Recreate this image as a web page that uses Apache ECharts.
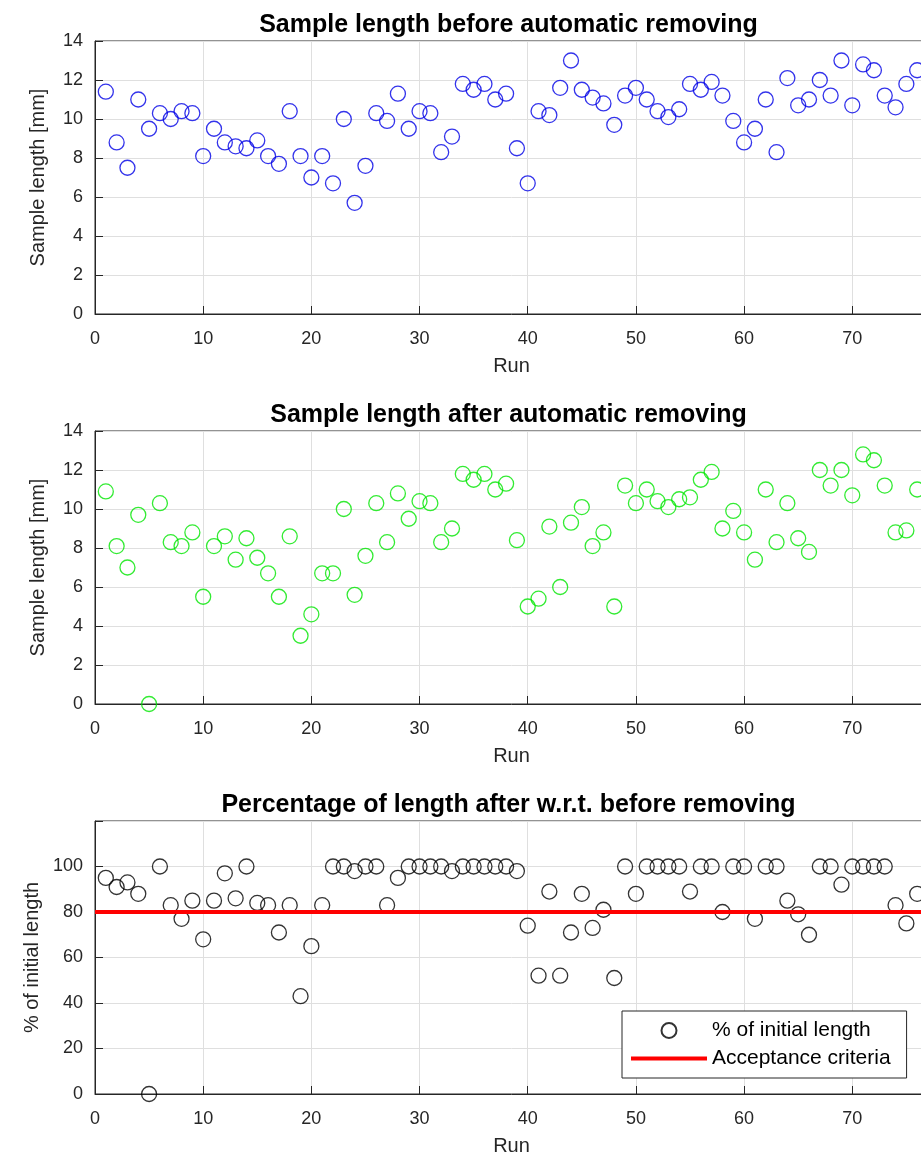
<!DOCTYPE html>
<html>
<head>
<meta charset="utf-8">
<script src="https://cdn.jsdelivr.net/npm/echarts@6/dist/echarts.min.js"></script>
<style>
  html, body { margin: 0; padding: 0; background: #fff; overflow: hidden; width: 921px; height: 1169px; }
  #chart { width: 940px; height: 1169px; }
</style>
</head>
<body>
<div id="chart"></div>
<script>
// Run numbers (x values shared by all three panels)
const runs = [
  1, 2, 3, 4, 5, 6, 7, 8, 9, 10,
  11, 12, 13, 14, 15, 16, 17, 18, 19, 20,
  21, 22, 23, 24, 25, 26, 27, 28, 29, 30,
  31, 32, 33, 34, 35, 36, 37, 38, 39, 40,
  41, 42, 43, 44, 45, 46, 47, 48, 49, 50,
  51, 52, 53, 54, 55, 56, 57, 58, 59, 60,
  61, 62, 63, 64, 65, 66, 67, 68, 69, 70,
  71, 72, 73, 74, 75, 76
];

// Sample length [mm] before automatic removing
const lengthBefore = [
  11.4, 8.8, 7.5, 11.0, 9.5, 10.3, 10.0, 10.4, 10.3, 8.1,
  9.5, 8.8, 8.6, 8.5, 8.9, 8.1, 7.7, 10.4, 8.1, 7.0,
  8.1, 6.7, 10.0, 5.7, 7.6, 10.3, 9.9, 11.3, 9.5, 10.4,
  10.3, 8.3, 9.1, 11.8, 11.5, 11.8, 11.0, 11.3, 8.5, 6.7,
  10.4, 10.2, 11.6, 13.0, 11.5, 11.1, 10.8, 9.7, 11.2, 11.6,
  11.0, 10.4, 10.1, 10.5, 11.8, 11.5, 11.9, 11.2, 9.9, 8.8,
  9.5, 11.0, 8.3, 12.1, 10.7, 11.0, 12.0, 11.2, 13.0, 10.7,
  12.8, 12.5, 11.2, 10.6, 11.8, 12.5
];

// Sample length [mm] after automatic removing
const lengthAfter = [
  10.9, 8.1, 7.0, 9.7, 0, 10.3, 8.3, 8.1, 8.8, 5.5,
  8.1, 8.6, 7.4, 8.5, 7.5, 6.7, 5.5, 8.6, 3.5, 4.6,
  6.7, 6.7, 10.0, 5.6, 7.6, 10.3, 8.3, 10.8, 9.5, 10.4,
  10.3, 8.3, 9.0, 11.8, 11.5, 11.8, 11.0, 11.3, 8.4, 5.0,
  5.4, 9.1, 6.0, 9.3, 10.1, 8.1, 8.8, 5.0, 11.2, 10.3,
  11.0, 10.4, 10.1, 10.5, 10.6, 11.5, 11.9, 9.0, 9.9, 8.8,
  7.4, 11.0, 8.3, 10.3, 8.5, 7.8, 12.0, 11.2, 12.0, 10.7,
  12.8, 12.5, 11.2, 8.8, 8.9, 11.0
];

// Remaining length as % of the initial length
const percentRemaining = [
  95, 91, 93, 88, 0, 100, 83, 77, 85, 68,
  85, 97, 86, 100, 84, 83, 71, 83, 43, 65,
  83, 100, 100, 98, 100, 100, 83, 95, 100, 100,
  100, 100, 98, 100, 100, 100, 100, 100, 98, 74,
  52, 89, 52, 71, 88, 73, 81, 51, 100, 88,
  100, 100, 100, 100, 89, 100, 100, 80, 100, 100,
  77, 100, 100, 85, 79, 70, 100, 100, 92, 100,
  100, 100, 100, 83, 75, 88
];

const acceptanceLevel = 80;

const panelTitles = [
  'Sample length before automatic removing',
  'Sample length after automatic removing',
  'Percentage of length after w.r.t. before removing'
];
const yAxisNames = ['Sample length [mm]', 'Sample length [mm]', '% of initial length'];
const xAxisName = 'Run';
const seriesNames = ['Before', 'After', '% of initial length', 'Acceptance criteria'];

const FONT = '"Liberation Sans", Arial, Helvetica, sans-serif';
const AXIS_COLOR = '#262626';
const GRID_COLOR = '#dfdfdf';

const PLOT_LEFT = 95;
const PLOT_WIDTH = 833;
const PLOT_HEIGHT = 273;
const PLOT_TOPS = [41, 431, 821];

function pairs(ys) {
  return runs.map((r, i) => [r, ys[i]]);
}

const grids = PLOT_TOPS.map(top => ({
  left: PLOT_LEFT, top: top, width: PLOT_WIDTH, height: PLOT_HEIGHT,
  show: true, borderColor: AXIS_COLOR, borderWidth: 1, backgroundColor: '#fff'
}));

const xAxes = [0, 1, 2].map(i => ({
  type: 'value', gridIndex: i, min: 0, max: 77, interval: 10,
  name: xAxisName, nameLocation: 'middle', nameGap: 42,
  nameTextStyle: { fontFamily: FONT, fontSize: 20, color: AXIS_COLOR },
  axisLine: { show: true, lineStyle: { color: AXIS_COLOR, width: 1 } },
  axisTick: { show: true, inside: true, length: 8, lineStyle: { color: AXIS_COLOR } },
  axisLabel: {
    fontFamily: FONT, fontSize: 18, color: AXIS_COLOR, margin: 16,
    showMaxLabel: false,
    formatter: v => (v % 10 === 0 ? String(v) : '')
  },
  splitLine: { show: true, lineStyle: { color: GRID_COLOR, width: 1 } }
}));

const yAxes = [
  { min: 0, max: 14, interval: 2 },
  { min: 0, max: 14, interval: 2 },
  { min: 0, max: 120, interval: 20 }
].map((ext, i) => ({
  type: 'value', gridIndex: i, min: ext.min, max: ext.max, interval: ext.interval,
  name: yAxisNames[i], nameLocation: 'middle', nameGap: 47,
  nameTextStyle: { fontFamily: FONT, fontSize: 20, color: AXIS_COLOR },
  axisLine: { show: true, lineStyle: { color: AXIS_COLOR, width: 1 } },
  axisTick: { show: true, inside: true, length: 8, lineStyle: { color: AXIS_COLOR } },
  axisLabel: {
    fontFamily: FONT, fontSize: 18, color: AXIS_COLOR, margin: 12,
    formatter: v => (i === 2 && v > 100 ? '' : String(v))
  },
  splitLine: { show: true, lineStyle: { color: GRID_COLOR, width: 1 } }
}));

function ringSeries(name, idx, data, color) {
  return {
    name: name, type: 'scatter', xAxisIndex: idx, yAxisIndex: idx,
    data: pairs(data), symbol: 'circle', symbolSize: 15,
    itemStyle: { color: 'transparent', borderColor: color, borderWidth: 1.3 },
    emphasis: { disabled: true }, z: 3
  };
}

const option = {
  backgroundColor: '#fff',
  animation: false,
  title: panelTitles.map((t, i) => ({
    text: t, left: PLOT_LEFT + PLOT_WIDTH / 2 - 8, textAlign: 'center',
    top: PLOT_TOPS[i] - 33,
    textStyle: { fontFamily: FONT, fontSize: 25, fontWeight: 'bold', color: '#000' }
  })),
  grid: grids,
  xAxis: xAxes,
  yAxis: yAxes,
  legend: {
    orient: 'vertical', left: 622, top: 1011,
    padding: [9, 16, 9, 9], itemGap: 7,
    itemWidth: 76, itemHeight: 15,
    backgroundColor: '#fff', borderColor: AXIS_COLOR, borderWidth: 1, borderRadius: 0,
    textStyle: { fontFamily: FONT, fontSize: 21, color: '#000' },
    data: [
      { name: seriesNames[2], icon: 'circle' },
      { name: seriesNames[3], icon: 'path://M0,0H76V4H0Z' }
    ]
  },
  series: [
    ringSeries(seriesNames[0], 0, lengthBefore, '#0000e6'),
    ringSeries(seriesNames[1], 1, lengthAfter, '#00e600'),
    ringSeries(seriesNames[2], 2, percentRemaining, '#000000'),
    {
      name: seriesNames[3], type: 'line', xAxisIndex: 2, yAxisIndex: 2,
      data: [], symbol: 'none', color: '#ff0000',
      lineStyle: { color: '#ff0000', width: 4 },
      itemStyle: { color: '#ff0000', borderWidth: 0 },
      markLine: {
        silent: true, symbol: ['none', 'none'], label: { show: false },
        lineStyle: { color: '#ff0000', width: 4, type: 'solid' },
        data: [{ yAxis: acceptanceLevel }]
      },
      z: 2
    }
  ]
};

const chart = echarts.init(document.getElementById('chart'), null, { renderer: 'canvas' });
chart.setOption(option);
</script>
</body>
</html>
